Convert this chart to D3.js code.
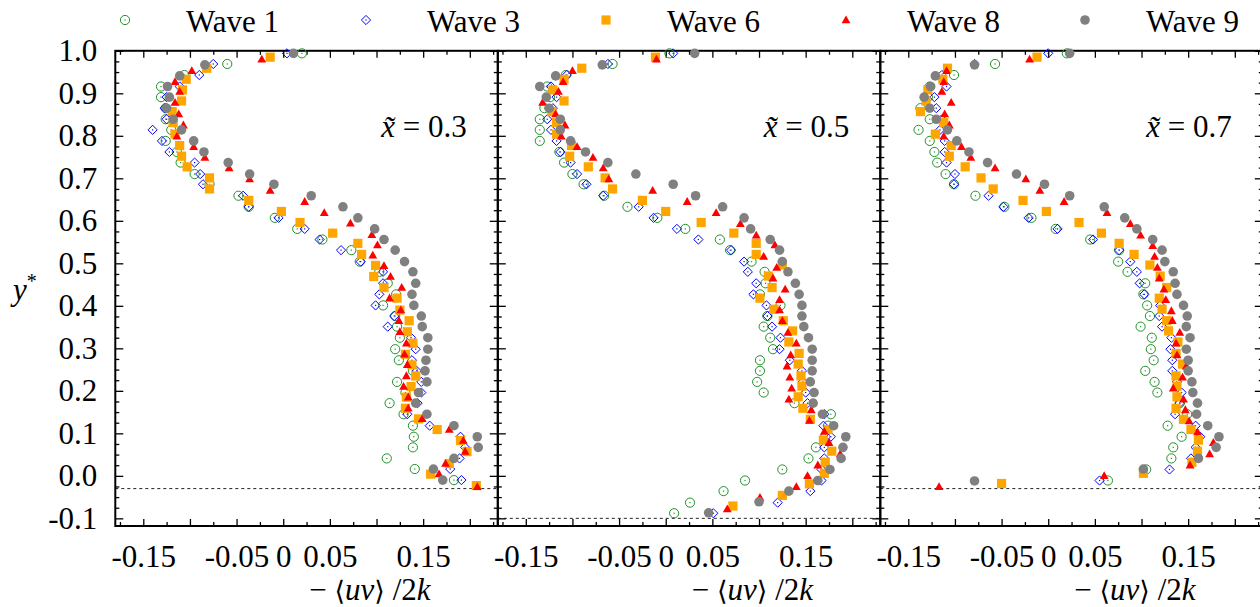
<!DOCTYPE html>
<html><head><meta charset="utf-8">
<script src="https://cdn.jsdelivr.net/npm/d3@7"></script>
<style>body{margin:0;background:#fff}svg{display:block}</style>
</head><body>
<svg id="c" width="1260" height="607" font-family="Liberation Serif"></svg>
<script>
const seriesNames = ["Wave 1","Wave 3","Wave 6","Wave 8","Wave 9"];
const panelLabels = ["0.3","0.5","0.7"];
const xTickLabels = [-0.15,-0.05,0,0.05,0.15];
const yTickLabels = [-0.1,0,0.1,0.2,0.3,0.4,0.5,0.6,0.7,0.8,0.9,1.0];
const troughLevels = [-0.03,-0.1,-0.03];

// panel x~=0.3
const wave1_p1 = [[0.020,0.994],[-0.060,0.969],[-0.106,0.943],[-0.131,0.916],[-0.131,0.891],[-0.126,0.865],[-0.126,0.839],[-0.120,0.814],[-0.126,0.788],[-0.114,0.762],[-0.110,0.737],[-0.095,0.710],[-0.079,0.686],[-0.048,0.659],[-0.037,0.633],[-0.009,0.607],[0.015,0.581],[0.042,0.556],[0.073,0.531],[0.082,0.504],[0.103,0.480],[0.112,0.453],[0.121,0.427],[0.107,0.401],[0.120,0.376],[0.122,0.351],[0.125,0.325],[0.120,0.298],[0.124,0.272],[0.139,0.247],[0.122,0.221],[0.131,0.196],[0.114,0.171],[0.129,0.145],[0.139,0.118],[0.140,0.092],[0.139,0.067],[0.111,0.041],[0.141,0.016],[0.183,-0.010]];
const wave3_p1 = [[0.004,0.994],[-0.075,0.969],[-0.090,0.943],[-0.111,0.916],[-0.125,0.891],[-0.127,0.865],[-0.125,0.839],[-0.140,0.814],[-0.130,0.788],[-0.122,0.762],[-0.095,0.737],[-0.089,0.710],[-0.086,0.686],[-0.043,0.659],[-0.037,0.633],[-0.005,0.607],[0.023,0.581],[0.039,0.556],[0.062,0.531],[0.083,0.504],[0.107,0.480],[0.107,0.453],[0.103,0.427],[0.099,0.401],[0.119,0.376],[0.112,0.351],[0.137,0.325],[0.142,0.298],[0.138,0.272],[0.143,0.247],[0.148,0.221],[0.148,0.196],[0.144,0.171],[0.133,0.145],[0.157,0.118],[0.190,0.092],[0.195,0.067],[0.189,0.041],[0.179,0.016],[0.191,-0.010]];
const wave6_p1 = [[-0.014,0.985],[-0.082,0.959],[-0.104,0.933],[-0.108,0.908],[-0.109,0.882],[-0.119,0.857],[-0.118,0.831],[-0.116,0.804],[-0.111,0.777],[-0.109,0.752],[-0.103,0.727],[-0.079,0.701],[-0.079,0.675],[-0.037,0.648],[-0.002,0.622],[0.018,0.596],[0.053,0.571],[0.080,0.547],[0.084,0.521],[0.099,0.495],[0.097,0.469],[0.108,0.443],[0.122,0.418],[0.125,0.390],[0.135,0.365],[0.133,0.339],[0.139,0.312],[0.131,0.286],[0.138,0.261],[0.142,0.235],[0.137,0.210],[0.132,0.185],[0.131,0.159],[0.145,0.134],[0.165,0.109],[0.190,0.083],[0.197,0.057],[0.178,0.029],[0.158,0.004],[0.207,-0.023]];
const wave8_p1 = [[-0.023,0.980],[-0.098,0.953],[-0.116,0.927],[-0.111,0.904],[-0.116,0.878],[-0.112,0.851],[-0.107,0.825],[-0.114,0.799],[-0.096,0.774],[-0.084,0.749],[-0.058,0.724],[-0.036,0.698],[-0.014,0.671],[0.023,0.645],[0.044,0.619],[0.072,0.594],[0.095,0.567],[0.101,0.543],[0.096,0.519],[0.108,0.494],[0.115,0.469],[0.127,0.443],[0.114,0.418],[0.126,0.390],[0.124,0.365],[0.125,0.339],[0.132,0.312],[0.130,0.286],[0.133,0.261],[0.132,0.235],[0.129,0.210],[0.134,0.185],[0.134,0.159],[0.149,0.134],[0.178,0.109],[0.193,0.083],[0.195,0.057],[0.174,0.029],[0.167,0.004],[0.208,-0.026]];
const wave9_p1 = [[0.011,0.994],[-0.084,0.967],[-0.111,0.941],[-0.124,0.916],[-0.122,0.891],[-0.125,0.865],[-0.118,0.839],[-0.109,0.814],[-0.096,0.788],[-0.085,0.762],[-0.059,0.737],[-0.036,0.710],[-0.010,0.686],[0.030,0.659],[0.064,0.633],[0.080,0.607],[0.098,0.581],[0.108,0.556],[0.120,0.531],[0.130,0.504],[0.139,0.480],[0.142,0.453],[0.138,0.427],[0.140,0.401],[0.148,0.376],[0.149,0.351],[0.155,0.325],[0.155,0.298],[0.153,0.272],[0.152,0.247],[0.154,0.221],[0.145,0.196],[0.142,0.171],[0.154,0.145],[0.183,0.118],[0.208,0.092],[0.209,0.067],[0.183,0.041],[0.161,0.016],[0.171,-0.010]];

// panel x~=0.5
const wave1_p2 = [[0.004,0.994],[-0.057,0.969],[-0.107,0.943],[-0.127,0.916],[-0.124,0.891],[-0.130,0.865],[-0.135,0.839],[-0.135,0.814],[-0.135,0.788],[-0.114,0.762],[-0.109,0.737],[-0.100,0.710],[-0.088,0.686],[-0.066,0.659],[-0.041,0.633],[-0.009,0.607],[0.021,0.581],[0.058,0.556],[0.069,0.531],[0.092,0.504],[0.106,0.480],[0.107,0.453],[0.101,0.427],[0.123,0.401],[0.109,0.376],[0.105,0.351],[0.112,0.325],[0.115,0.298],[0.101,0.272],[0.101,0.247],[0.098,0.221],[0.105,0.196],[0.138,0.171],[0.177,0.145],[0.174,0.118],[0.171,0.092],[0.161,0.067],[0.153,0.041],[0.125,0.015],[0.085,-0.011],[0.062,-0.036],[0.026,-0.063],[0.009,-0.088]];
const wave3_p2 = [[0.008,0.994],[-0.062,0.969],[-0.106,0.943],[-0.123,0.916],[-0.117,0.891],[-0.121,0.865],[-0.127,0.839],[-0.123,0.814],[-0.117,0.788],[-0.113,0.762],[-0.102,0.737],[-0.095,0.710],[-0.085,0.686],[-0.067,0.659],[-0.029,0.633],[-0.013,0.607],[0.012,0.581],[0.035,0.556],[0.070,0.531],[0.084,0.504],[0.088,0.480],[0.097,0.453],[0.094,0.427],[0.108,0.401],[0.109,0.376],[0.114,0.351],[0.123,0.325],[0.122,0.298],[0.133,0.272],[0.146,0.247],[0.147,0.221],[0.150,0.196],[0.152,0.171],[0.170,0.145],[0.169,0.118],[0.177,0.092],[0.170,0.067],[0.170,0.041],[0.167,0.015],[0.167,-0.011],[0.155,-0.036],[0.120,-0.063],[0.051,-0.088]];
const wave6_p2 = [[-0.011,0.985],[-0.090,0.959],[-0.109,0.933],[-0.121,0.908],[-0.109,0.882],[-0.122,0.857],[-0.117,0.831],[-0.117,0.804],[-0.101,0.777],[-0.103,0.752],[-0.083,0.727],[-0.065,0.701],[-0.057,0.675],[-0.025,0.648],[0.000,0.622],[0.038,0.596],[0.073,0.571],[0.097,0.547],[0.097,0.521],[0.125,0.496],[0.110,0.470],[0.114,0.443],[0.101,0.418],[0.116,0.392],[0.126,0.365],[0.136,0.341],[0.132,0.315],[0.143,0.288],[0.142,0.263],[0.145,0.235],[0.146,0.211],[0.142,0.186],[0.147,0.159],[0.155,0.133],[0.174,0.109],[0.169,0.084],[0.178,0.058],[0.171,0.032],[0.170,0.006],[0.154,-0.019],[0.125,-0.046],[0.072,-0.071]];
const wave8_p2 = [[-0.010,0.980],[-0.100,0.953],[-0.110,0.927],[-0.115,0.904],[-0.132,0.878],[-0.118,0.851],[-0.108,0.825],[-0.112,0.799],[-0.095,0.774],[-0.078,0.749],[-0.067,0.724],[-0.061,0.698],[-0.014,0.671],[0.023,0.645],[0.054,0.619],[0.080,0.593],[0.097,0.566],[0.117,0.543],[0.105,0.516],[0.119,0.490],[0.115,0.465],[0.128,0.439],[0.122,0.414],[0.122,0.390],[0.125,0.365],[0.131,0.337],[0.140,0.312],[0.134,0.284],[0.130,0.258],[0.133,0.232],[0.135,0.206],[0.132,0.180],[0.156,0.155],[0.154,0.130],[0.170,0.104],[0.175,0.078],[0.187,0.051],[0.163,0.025],[0.152,0.000],[0.140,-0.026],[0.101,-0.051],[0.066,-0.078]];
const wave9_p2 = [[0.031,0.994],[-0.068,0.967],[-0.118,0.941],[-0.135,0.916],[-0.128,0.891],[-0.125,0.865],[-0.113,0.839],[-0.113,0.814],[-0.102,0.788],[-0.086,0.762],[-0.062,0.737],[-0.032,0.710],[0.008,0.686],[0.032,0.659],[0.061,0.633],[0.084,0.607],[0.091,0.581],[0.112,0.556],[0.122,0.531],[0.125,0.504],[0.131,0.480],[0.139,0.453],[0.143,0.427],[0.146,0.401],[0.146,0.376],[0.148,0.351],[0.153,0.325],[0.157,0.298],[0.157,0.272],[0.157,0.247],[0.155,0.221],[0.159,0.196],[0.158,0.171],[0.168,0.145],[0.180,0.118],[0.193,0.092],[0.190,0.067],[0.188,0.041],[0.176,0.015],[0.163,-0.011],[0.132,-0.036],[0.100,-0.061],[0.046,-0.087]];

// panel x~=0.7
const wave1_p3 = [[0.020,0.994],[-0.057,0.969],[-0.101,0.943],[-0.127,0.916],[-0.129,0.891],[-0.137,0.865],[-0.127,0.839],[-0.139,0.814],[-0.127,0.788],[-0.122,0.762],[-0.119,0.737],[-0.110,0.710],[-0.101,0.686],[-0.078,0.659],[-0.047,0.633],[-0.018,0.607],[0.008,0.581],[0.045,0.556],[0.076,0.531],[0.075,0.504],[0.085,0.480],[0.104,0.453],[0.102,0.427],[0.106,0.401],[0.109,0.376],[0.099,0.351],[0.111,0.325],[0.110,0.298],[0.113,0.272],[0.104,0.247],[0.114,0.221],[0.117,0.196],[0.141,0.171],[0.149,0.145],[0.128,0.118],[0.143,0.092],[0.134,0.067],[0.132,0.041],[0.105,0.015],[0.064,-0.011]];
const wave3_p3 = [[0.000,0.994],[-0.079,0.969],[-0.114,0.943],[-0.109,0.916],[-0.122,0.891],[-0.120,0.865],[-0.114,0.839],[-0.116,0.814],[-0.111,0.788],[-0.111,0.762],[-0.109,0.737],[-0.100,0.710],[-0.101,0.686],[-0.064,0.659],[-0.048,0.633],[-0.021,0.607],[0.010,0.581],[0.048,0.556],[0.076,0.531],[0.088,0.504],[0.095,0.480],[0.098,0.453],[0.103,0.427],[0.120,0.401],[0.119,0.376],[0.122,0.351],[0.132,0.325],[0.131,0.298],[0.133,0.272],[0.133,0.247],[0.138,0.221],[0.143,0.196],[0.141,0.171],[0.136,0.145],[0.158,0.118],[0.163,0.092],[0.158,0.067],[0.153,0.041],[0.130,0.015],[0.055,-0.011]];
const wave6_p3 = [[-0.012,0.985],[-0.108,0.959],[-0.113,0.933],[-0.129,0.908],[-0.131,0.882],[-0.137,0.857],[-0.112,0.831],[-0.121,0.804],[-0.104,0.777],[-0.106,0.752],[-0.089,0.727],[-0.072,0.701],[-0.059,0.675],[-0.027,0.648],[-0.002,0.622],[0.033,0.596],[0.057,0.571],[0.076,0.547],[0.092,0.521],[0.109,0.496],[0.120,0.470],[0.127,0.443],[0.119,0.418],[0.122,0.392],[0.127,0.365],[0.129,0.341],[0.139,0.315],[0.137,0.288],[0.144,0.263],[0.137,0.235],[0.138,0.211],[0.138,0.186],[0.137,0.159],[0.145,0.133],[0.153,0.109],[0.161,0.084],[0.160,0.058],[0.154,0.032],[0.102,0.006],[-0.050,-0.018]];
const wave8_p3 = [[-0.020,0.980],[-0.109,0.953],[-0.112,0.927],[-0.114,0.904],[-0.104,0.878],[-0.111,0.851],[-0.106,0.825],[-0.112,0.799],[-0.093,0.774],[-0.083,0.749],[-0.057,0.724],[-0.024,0.698],[-0.009,0.671],[0.017,0.645],[0.063,0.619],[0.088,0.593],[0.099,0.566],[0.112,0.541],[0.114,0.516],[0.117,0.490],[0.119,0.465],[0.124,0.439],[0.126,0.414],[0.132,0.388],[0.133,0.365],[0.141,0.337],[0.137,0.312],[0.138,0.284],[0.148,0.258],[0.144,0.232],[0.134,0.206],[0.145,0.180],[0.147,0.155],[0.151,0.129],[0.160,0.103],[0.177,0.078],[0.173,0.051],[0.152,0.025],[0.060,0.000],[-0.117,-0.026]];
const wave9_p3 = [[0.023,0.994],[-0.079,0.967],[-0.121,0.941],[-0.126,0.916],[-0.133,0.891],[-0.127,0.865],[-0.120,0.839],[-0.108,0.814],[-0.098,0.788],[-0.085,0.762],[-0.065,0.737],[-0.034,0.710],[-0.004,0.686],[0.023,0.659],[0.060,0.633],[0.082,0.607],[0.095,0.581],[0.112,0.556],[0.122,0.531],[0.125,0.504],[0.134,0.480],[0.136,0.453],[0.138,0.427],[0.145,0.401],[0.149,0.376],[0.148,0.351],[0.152,0.325],[0.148,0.298],[0.150,0.272],[0.150,0.247],[0.154,0.221],[0.155,0.196],[0.160,0.171],[0.159,0.145],[0.171,0.118],[0.183,0.092],[0.180,0.067],[0.161,0.041],[0.102,0.016],[-0.079,-0.012]];

const panels = [
  [wave1_p1, wave3_p1, wave6_p1, wave8_p1, wave9_p1],
  [wave1_p2, wave3_p2, wave6_p2, wave8_p2, wave9_p2],
  [wave1_p3, wave3_p3, wave6_p3, wave8_p3, wave9_p3]
];

(function () {
const FONT = "Liberation Serif";
const svg = d3.select("#c");
const pw = 382.5, topY = 50.8, bottomY = 526;
const lefts = [115.3, 497.8, 880.3];
const y = d3.scaleLinear().domain([-0.118, 1.0]).range([bottomY, topY]);

const colors = ["#22922a", "#0000ff", "#ffa500", "#ff0000", "#808080"];

function markerPath(k) {
  if (k === 0) return "M4.6,0A4.6,4.6 0 1 1 -4.6,0A4.6,4.6 0 1 1 4.6,0Z";
  if (k === 1) return "M0,-4.6L4.6,0L0,4.6L-4.6,0Z";
  if (k === 2) return "M-4.6,-4.6H4.6V4.6H-4.6Z";
  if (k === 3) return "M0,-4.6L4.4,3.2L-4.4,3.2Z";
  return "M4.8,0A4.8,4.8 0 1 1 -4.8,0A4.8,4.8 0 1 1 4.8,0Z";
}
function marker(sel, k, cx, cy) {
  const open = k < 2;
  sel.append("path").attr("transform", `translate(${cx},${cy})`).attr("d", markerPath(k))
    .attr("fill", open ? "none" : colors[k]).attr("stroke", open ? colors[k] : "none").attr("stroke-width", 1);
  if (open) sel.append("rect").attr("x", cx - 0.6).attr("y", cy - 0.6).attr("width", 1.2).attr("height", 1.2).attr("fill", colors[k]);
}

const rnd = v => Math.round(v * 1000) / 1000;
const majorX = d3.range(-0.15, 0.2301, 0.05).map(rnd);
const minorX = d3.range(-0.175, 0.2301, 0.05).map(rnd);
const majorY = d3.range(-0.1, 1.0001, 0.1).map(rnd);
const minorY = d3.range(-0.1, 1.0001, 0.025).map(rnd).filter(v => !majorY.some(m => Math.abs(m - v) < 1e-6));

panels.forEach((series, p) => {
  const L = lefts[p];
  const x = d3.scaleLinear().domain([-0.18, 0.23]).range([L, L + pw]);
  const g = svg.append("g");

  g.append("line").attr("x1", L).attr("x2", L + pw)
    .attr("y1", y(troughLevels[p])).attr("y2", y(troughLevels[p]))
    .attr("stroke", "#222").attr("stroke-width", 1).attr("stroke-dasharray", "3,3");

  const noLabel = () => "";
  const xLab = v => xTickLabels.some(t => Math.abs(t - v) < 1e-6) ? (Math.abs(v) < 1e-9 ? "0" : d3.format(".2f")(v).replace("\u2212", "-")) : "";
  const yLab = p === 0 ? (v => yTickLabels.some(t => Math.abs(t - v) < 1e-6) ? d3.format(".1f")(v).replace("\u2212", "-") : "") : noLabel;

  g.append("g").attr("transform", `translate(0,${bottomY})`)
    .call(d3.axisBottom(x).tickValues(majorX).tickSize(-7).tickPadding(19).tickFormat(xLab));
  g.append("g").attr("transform", `translate(0,${bottomY})`)
    .call(d3.axisBottom(x).tickValues(minorX).tickSize(-4).tickFormat(noLabel));
  g.append("g").attr("transform", `translate(0,${topY})`)
    .call(d3.axisTop(x).tickValues(majorX).tickSize(-7).tickFormat(noLabel));
  g.append("g").attr("transform", `translate(0,${topY})`)
    .call(d3.axisTop(x).tickValues(minorX).tickSize(-4).tickFormat(noLabel));
  g.append("g").attr("transform", `translate(${L},0)`)
    .call(d3.axisLeft(y).tickValues(majorY).tickSize(-8).tickPadding(18).tickFormat(yLab));
  g.append("g").attr("transform", `translate(${L},0)`)
    .call(d3.axisLeft(y).tickValues(minorY).tickSize(-4).tickFormat(noLabel));
  g.append("g").attr("transform", `translate(${L + pw},0)`)
    .call(d3.axisRight(y).tickValues(majorY).tickSize(-8).tickFormat(noLabel));
  g.append("g").attr("transform", `translate(${L + pw},0)`)
    .call(d3.axisRight(y).tickValues(minorY).tickSize(-4).tickFormat(noLabel));

  g.selectAll(".domain").remove();
  g.selectAll("g").attr("font-family", FONT).attr("font-size", 31);
  g.selectAll(".tick line").attr("stroke", "#000").attr("stroke-width", 1.3);
  g.selectAll(".tick text").attr("font-family", FONT).attr("font-size", 31).attr("fill", "#000");

  g.append("rect").attr("x", L).attr("y", topY).attr("width", pw).attr("height", bottomY - topY)
    .attr("fill", "none").attr("stroke", "#000").attr("stroke-width", 2);

  series.forEach((pts, k) => {
    const sg = g.append("g");
    pts.forEach(d => marker(sg, k, x(d[0]), y(d[1])));
  });

  const t = g.append("text").attr("x", L + pw - 31).attr("y", 137).attr("text-anchor", "end")
    .attr("font-family", FONT).attr("font-size", 31);
  t.append("tspan").attr("font-style", "italic").text("x\u0303");
  t.append("tspan").text(" = " + panelLabels[p]);

  const xt = g.append("text").attr("x", L + 194).attr("y", 600)
    .attr("font-family", FONT).attr("font-size", 31);
  xt.append("tspan").text("\u2212 ");
  xt.append("tspan").attr("font-family", "DejaVu Serif").attr("font-size", 27).text("\u27e8");
  xt.append("tspan").attr("font-style", "italic").text("uv");
  xt.append("tspan").attr("font-family", "DejaVu Serif").attr("font-size", 27).text("\u27e9");
  xt.append("tspan").text(" /2");
  xt.append("tspan").attr("font-style", "italic").text("k");
});

const yt = svg.append("text").attr("x", 13).attr("y", 300).attr("font-family", FONT).attr("font-size", 31);
yt.append("tspan").attr("font-style", "italic").text("y");
yt.append("tspan").attr("font-size", 20).attr("dy", -12).text("*");

const legendX = [125, 366, 606, 846, 1085];
seriesNames.forEach((name, k) => {
  marker(svg, k, legendX[k], 20);
  svg.append("text").attr("x", legendX[k] + 61).attr("y", 32)
    .attr("font-family", FONT).attr("font-size", 31).text(name);
});
})();
</script>
</body></html>
